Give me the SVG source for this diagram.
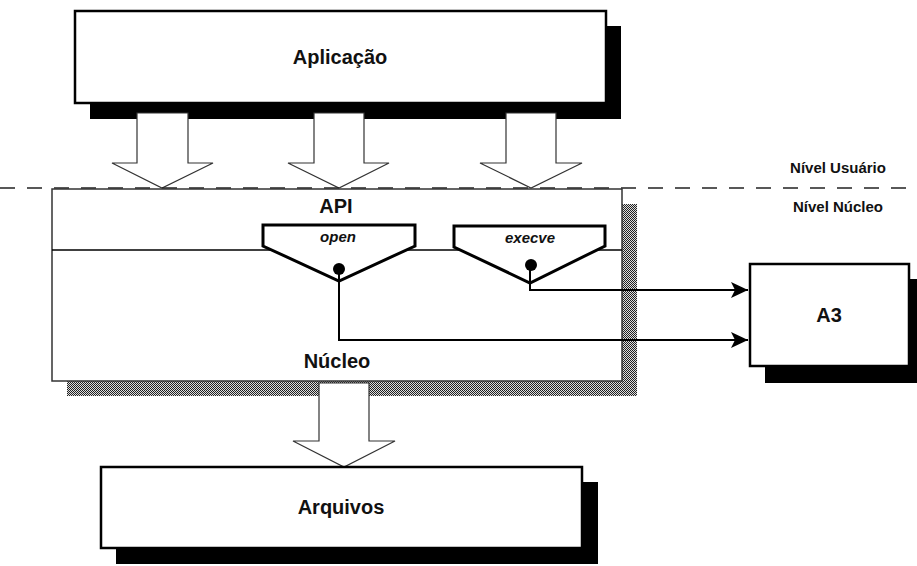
<svg xmlns="http://www.w3.org/2000/svg" width="917" height="566" viewBox="0 0 917 566">
<style>
.lbl{font-family:"Liberation Sans",Arial,sans-serif;font-weight:bold;fill:#111;text-anchor:middle}
.big{font-size:20px}
.sm{font-size:15px}
.it{font-size:15px;font-style:italic}
.box{fill:#fff;stroke:#000;stroke-width:2.5}
.shadow{fill:#000}
.hollow{fill:#fff;stroke:#333;stroke-width:1.2}
.trap{fill:#fff;stroke:#000;stroke-width:3;stroke-linejoin:miter}
.conn{fill:none;stroke:#000;stroke-width:2}
</style>
<defs>
<pattern id="dither" width="2" height="2" patternUnits="userSpaceOnUse">
<rect width="2" height="2" fill="#ddd"/>
<rect width="1" height="1" fill="#222"/>
<rect x="1" y="1" width="1" height="1" fill="#222"/>
</pattern>
<marker id="arr" markerWidth="18" markerHeight="16" refX="17" refY="8" orient="auto" markerUnits="userSpaceOnUse">
<path d="M0,0 L17,8 L0,16 L4,8 Z" fill="#000"/>
</marker>
</defs>
<rect width="917" height="566" fill="#fff"/>

<g id="aplicacao">
<rect class="shadow" x="90" y="26" width="531" height="93"/>
<rect class="box" x="75" y="11" width="531" height="92"/>
<text class="lbl big" x="340" y="64">Aplicação</text>
</g>

<g id="arrows-down">
<path class="hollow" d="M137,113 H188 V163 H213 L162,188 L112,163 H137 Z"/>
<path class="hollow" d="M314,113 H364 V163 H389 L339,188 L288,163 H314 Z"/>
<path class="hollow" d="M506,113 H556 V163 H582 L531,188 L480,163 H506 Z"/>
</g>

<g id="niveis">
<line x1="0" y1="188" x2="917" y2="188" stroke="#222" stroke-width="1.5" stroke-dasharray="15 12"/>
<text class="lbl sm" x="838" y="173">Nível Usuário</text>
<text class="lbl sm" x="838" y="212">Nível Núcleo</text>
</g>

<g id="nucleo">
<rect x="67" y="204" width="570" height="192" fill="url(#dither)"/>
<rect x="52" y="189" width="570" height="192" fill="#fff" stroke="#333" stroke-width="1.5"/>
<line x1="52" y1="250" x2="622" y2="250" stroke="#000" stroke-width="1.5"/>
<text class="lbl big" x="336" y="213">API</text>
<text class="lbl big" x="337" y="368">Núcleo</text>
</g>

<g id="open">
<path class="trap" d="M263,225 H415 V246 L339,281 L263,246 Z"/>
<text class="lbl it" x="338" y="242">open</text>
<circle cx="339" cy="269" r="6" fill="#000"/>
</g>

<g id="execve">
<path class="trap" d="M454,226 H605 V246 L530,283 L454,247 Z"/>
<text class="lbl it" x="530" y="243">execve</text>
<circle cx="531" cy="265" r="6" fill="#000"/>
</g>

<g id="connectors">
<path class="conn" d="M339,269 V340 H748" marker-end="url(#arr)"/>
<path class="conn" d="M530,265 V290 H748" marker-end="url(#arr)"/>
<path class="hollow" d="M319,383 H369 V441 H395 L344,467 L293,441 H319 Z"/>
</g>

<g id="a3">
<rect class="shadow" x="765" y="279" width="160" height="104"/>
<rect class="box" x="750" y="264" width="159" height="102" stroke-width="3"/>
<text class="lbl big" x="829" y="322">A3</text>
</g>

<g id="arquivos">
<rect class="shadow" x="116" y="482" width="482" height="82"/>
<rect class="box" x="101" y="467" width="481" height="81"/>
<text class="lbl big" x="341" y="514">Arquivos</text>
</g>
</svg>
